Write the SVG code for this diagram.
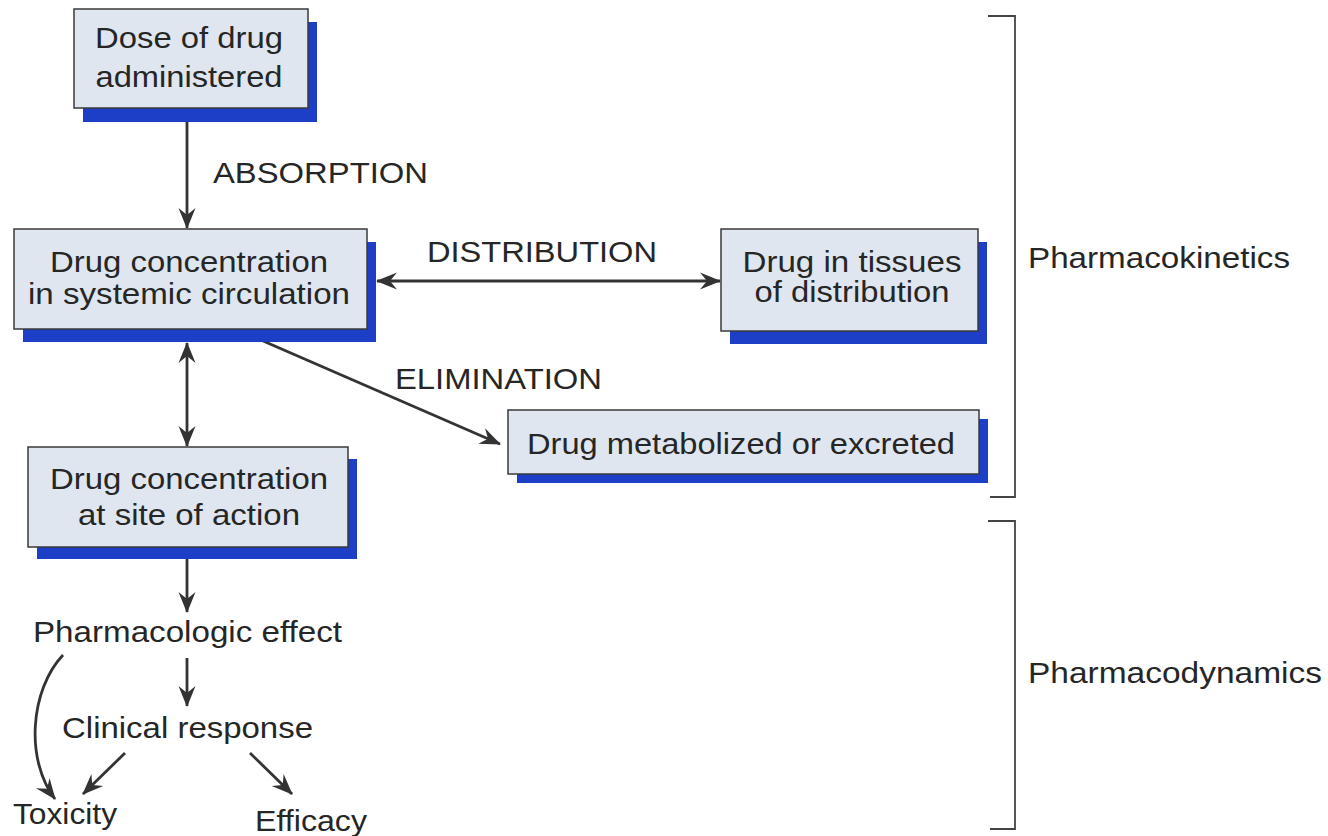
<svg xmlns="http://www.w3.org/2000/svg" width="1328" height="836" viewBox="0 0 1328 836">
  <style>
    .shadow { fill: #1d3ec6; }
    .box { fill: #dfe6ef; stroke: #3a3a3a; stroke-width: 1.5; }
    text { font-family: "Liberation Sans", Arial, sans-serif; font-size: 29px; fill: #262626; }
    .c { text-anchor: middle; }
    .conn { stroke: #333; stroke-width: 2.8; fill: none; }
    .br { stroke: #444; stroke-width: 1.8; fill: none; }
  </style>
  <defs>
    <marker id="ah" viewBox="-22 -11 24 22" refX="0" refY="0" markerWidth="24" markerHeight="22" markerUnits="userSpaceOnUse" orient="auto-start-reverse">
      <path d="M1,0 L-20,-8.5 L-13,0 L-20,8.5 Z" fill="#333"/>
    </marker>
  </defs>
  <rect width="1328" height="836" fill="#ffffff"/>

  <g id="connectors">
    <line class="conn" x1="187" y1="108" x2="187" y2="228" marker-end="url(#ah)"/>
    <line class="conn" x1="377" y1="281" x2="720" y2="281" marker-start="url(#ah)" marker-end="url(#ah)"/>
    <line class="conn" x1="238" y1="330" x2="500" y2="444" marker-end="url(#ah)"/>
    <line class="conn" x1="187" y1="343" x2="187" y2="446" marker-start="url(#ah)" marker-end="url(#ah)"/>
    <line class="conn" x1="187" y1="547" x2="187" y2="612" marker-end="url(#ah)"/>
    <line class="conn" x1="187" y1="658" x2="187" y2="706" marker-end="url(#ah)"/>
    <path class="conn" d="M63,655 C30,690 25,760 55,799" marker-end="url(#ah)"/>
    <line class="conn" x1="125" y1="753" x2="83" y2="794" marker-end="url(#ah)"/>
    <line class="conn" x1="250" y1="753" x2="292" y2="794" marker-end="url(#ah)"/>
  </g>

  <g id="labels">
    <text x="213" y="183" textLength="215" lengthAdjust="spacingAndGlyphs">ABSORPTION</text>
    <text x="427" y="262" textLength="230" lengthAdjust="spacingAndGlyphs">DISTRIBUTION</text>
    <text x="395" y="389" textLength="207" lengthAdjust="spacingAndGlyphs">ELIMINATION</text>
  </g>

  <g id="node-dose">
    <rect class="shadow" x="83" y="22" width="234" height="100"/>
    <rect class="box" x="74" y="9" width="234" height="99"/>
    <text class="c" x="189" y="48" textLength="188" lengthAdjust="spacingAndGlyphs">Dose of drug</text>
    <text class="c" x="189" y="87" textLength="187" lengthAdjust="spacingAndGlyphs">administered</text>
  </g>

  <g id="node-systemic">
    <rect class="shadow" x="23" y="242" width="353" height="100"/>
    <rect class="box" x="14" y="229" width="353" height="100"/>
    <text class="c" x="189" y="272" textLength="278" lengthAdjust="spacingAndGlyphs">Drug concentration</text>
    <text class="c" x="189" y="304" textLength="322" lengthAdjust="spacingAndGlyphs">in systemic circulation</text>
  </g>

  <g id="node-tissues">
    <rect class="shadow" x="730" y="242" width="257" height="102"/>
    <rect class="box" x="721" y="229" width="257" height="102"/>
    <text class="c" x="852" y="272" textLength="219" lengthAdjust="spacingAndGlyphs">Drug in tissues</text>
    <text class="c" x="852" y="302" textLength="195" lengthAdjust="spacingAndGlyphs">of distribution</text>
  </g>

  <g id="node-metabolized">
    <rect class="shadow" x="517" y="419" width="471" height="64"/>
    <rect class="box" x="508" y="410" width="471" height="64"/>
    <text class="c" x="741" y="454" textLength="428" lengthAdjust="spacingAndGlyphs">Drug metabolized or excreted</text>
  </g>

  <g id="node-site">
    <rect class="shadow" x="37" y="459" width="320" height="100"/>
    <rect class="box" x="28" y="447" width="320" height="100"/>
    <text class="c" x="189" y="489" textLength="278" lengthAdjust="spacingAndGlyphs">Drug concentration</text>
    <text class="c" x="189" y="525" textLength="222" lengthAdjust="spacingAndGlyphs">at site of action</text>
  </g>

  <g id="node-effect">
    <text x="33" y="642" textLength="309" lengthAdjust="spacingAndGlyphs">Pharmacologic effect</text>
  </g>
  <g id="node-clinical">
    <text x="62" y="738" textLength="251" lengthAdjust="spacingAndGlyphs">Clinical response</text>
  </g>
  <g id="node-toxicity">
    <text x="13" y="824" textLength="104" lengthAdjust="spacingAndGlyphs">Toxicity</text>
  </g>
  <g id="node-efficacy">
    <text x="255" y="831" textLength="112" lengthAdjust="spacingAndGlyphs">Efficacy</text>
  </g>

  <g id="bracket-pk">
    <path class="br" d="M988,16 H1015 V497 H990"/>
    <text x="1028" y="268" textLength="262" lengthAdjust="spacingAndGlyphs">Pharmacokinetics</text>
  </g>
  <g id="bracket-pd">
    <path class="br" d="M988,521 H1015 V829 H990"/>
    <text x="1028" y="683" textLength="294" lengthAdjust="spacingAndGlyphs">Pharmacodynamics</text>
  </g>
</svg>
